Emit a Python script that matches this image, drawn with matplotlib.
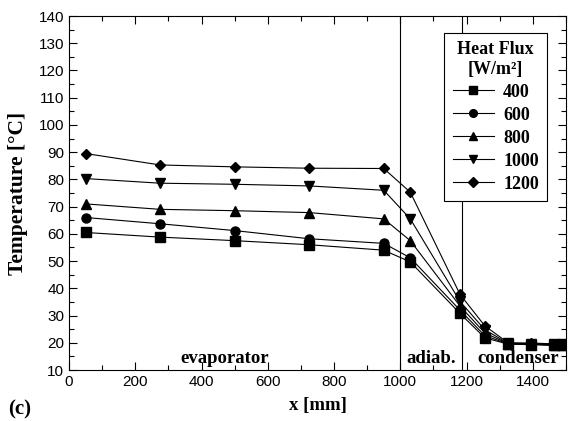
import matplotlib
matplotlib.use("Agg")
import matplotlib.pyplot as plt
from matplotlib.ticker import MultipleLocator

# positions along the heat pipe [mm]
x_mm = [50, 275, 500, 725, 950, 1030, 1180, 1255, 1325, 1395, 1465, 1490]

# temperature [C] for each heat flux [W/m2]
t_400 = [60.5, 58.8, 57.5, 56.0, 54.0, 49.7, 30.8, 21.8, 19.5, 19.3, 19.0, 19.0]
t_600 = [66.0, 63.7, 61.2, 58.2, 56.5, 51.2, 32.0, 22.6, 19.6, 19.5, 19.1, 19.1]
t_800 = [71.0, 69.0, 68.5, 67.8, 65.5, 57.5, 33.5, 23.6, 19.7, 19.6, 19.3, 19.3]
t_1000 = [80.3, 78.6, 78.2, 77.6, 76.0, 65.5, 35.2, 24.8, 19.8, 19.7, 19.4, 19.4]
t_1200 = [89.5, 85.3, 84.6, 84.1, 84.0, 75.3, 37.8, 26.2, 20.0, 19.9, 19.6, 19.6]

series = [("400", t_400, "s"), ("600", t_600, "o"), ("800", t_800, "^"),
          ("1000", t_1000, "v"), ("1200", t_1200, "D")]

serif = "Liberation Serif"
plt.rcParams["font.family"] = "Liberation Sans"

fig = plt.figure(figsize=(5.68, 4.21), dpi=100)
ax = fig.add_axes([69 / 568, 1 - 370 / 421, 497 / 568, 354 / 421])

for lab, t, m in series:
    ax.plot(x_mm, t, color="black", lw=0.8, marker=m,
            ms=6.5 if m != "D" else 5.5, mfc="black", mec="black", label=lab)

ax.axvline(1000, color="black", lw=0.8, zorder=1)
ax.axvline(1185, color="black", lw=0.8, zorder=1)

ax.set_xlim(0, 1500)
ax.set_ylim(10, 140)
ax.xaxis.set_major_locator(MultipleLocator(200))
ax.xaxis.set_minor_locator(MultipleLocator(100))
ax.yaxis.set_major_locator(MultipleLocator(10))
ax.yaxis.set_minor_locator(MultipleLocator(5))
ax.tick_params(which="both", direction="in", top=True, right=True,
               labelsize=11, width=0.8)
ax.tick_params(which="major", length=6)
ax.tick_params(which="minor", length=3.5)

ax.set_xlabel("x [mm]", fontfamily=serif, fontweight="bold", fontsize=13.5,
              labelpad=6)
ax.set_ylabel("Temperature [\u00b0C]", fontfamily=serif, fontweight="bold",
              fontsize=15.5, labelpad=8)

for label, xc in [("evaporator", 470), ("adiab.", 1093), ("condenser", 1357)]:
    ax.text(xc, 12.6, label, fontfamily=serif, fontweight="bold",
            fontsize=13.5, ha="center", va="baseline")
fig.text(8 / 568, 1 - 409 / 421, "(c)", fontfamily=serif, fontweight="bold",
         fontsize=15, va="center")

leg = ax.legend(title="Heat Flux\n[W/m\u00b2]", loc="upper right",
                bbox_to_anchor=((547 - 69) / 497, (370 - 33) / 354),
                borderaxespad=0, fancybox=False, framealpha=1,
                edgecolor="black", handlelength=2.3, handletextpad=0.5,
                labelspacing=0.33, markerscale=0.85, borderpad=0.45,
                prop={"family": serif, "weight": "bold", "size": 13})
leg.get_title().set_fontfamily(serif)
leg.get_title().set_fontweight("bold")
leg.get_title().set_fontsize(13)
leg.get_title().set_multialignment("center")
leg.get_frame().set_linewidth(0.8)

fig.savefig("out.png", dpi=100)
